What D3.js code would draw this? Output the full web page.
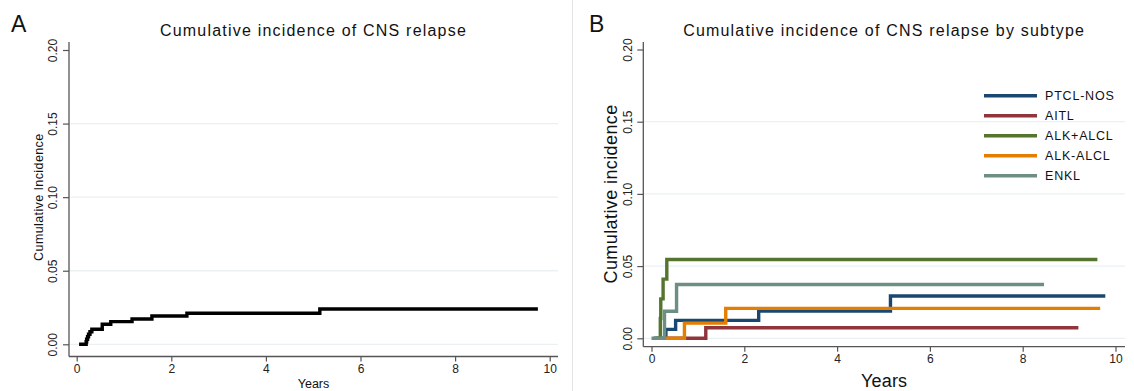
<!DOCTYPE html>
<html>
<head>
<meta charset="utf-8">
<script src="https://cdn.jsdelivr.net/npm/d3@7"></script>
<style>
  body { margin: 0; background: #fff; }
  svg { display: block; font-family: "Liberation Sans", Arial, sans-serif; }
</style>
</head>
<body>
<svg id="chart" width="1134" height="391"></svg>
<script>
// ---- data ----
const xTicks = [0, 2, 4, 6, 8, 10];
const yTicks = [0, 0.05, 0.10, 0.15, 0.20];
const gridVals = [0, 0.05, 0.10, 0.15];

// panel A : all patients (step times in years, CIF after each step)
const allTimes = [0.05, 0.20, 0.21, 0.23, 0.25, 0.28, 0.32, 0.54, 0.72, 1.17, 1.59, 2.33, 5.14, 9.75];
const allCIF   = [0, 0.0017, 0.0034, 0.0051, 0.0068, 0.0085, 0.0102, 0.0136, 0.0154, 0.0172, 0.0192, 0.0211, 0.0240, 0.0240];

// panel B : by subtype
const subtypes = ["PTCL-NOS", "AITL", "ALK+ALCL", "ALK-ALCL", "ENKL"];
const subtypeColors = ["#1a476f", "#90353b", "#55752f", "#e37e00", "#6e8e84"];
const ptclTimes = [0.05, 0.31, 0.52, 2.31, 5.15, 9.78];
const ptclCIF   = [0, 0.0062, 0.0124, 0.0189, 0.0293, 0.0293];
const aitlTimes = [0.30, 1.17, 9.20];
const aitlCIF   = [0, 0.0073, 0.0073];
const alkpTimes = [0.10, 0.19, 0.20, 0.25, 0.33, 9.61];
const alkpCIF   = [0, 0.0137, 0.0273, 0.0410, 0.0546, 0.0546];
const alknTimes = [0.30, 0.71, 1.60, 9.67];
const alknCIF   = [0, 0.0105, 0.0207, 0.0207];
const enklTimes = [0, 0.28, 0.54, 8.46];
const enklCIF   = [0, 0.0187, 0.0373, 0.0373];

const svg = d3.select("#chart");
const fmt2 = d3.format(".2f");

function toPoints(times, vals) {
  return times.map((t, i) => ({ t: t, v: vals[i] }));
}

// draws axes, grid and titles for one panel, returns the scales
function drawPanel(p) {
  const x = d3.scaleLinear().domain([0, 10]).range([p.x0, p.x10]);
  const y = d3.scaleLinear().domain([0, 0.2]).range([p.y0, p.y20]);
  const g = svg.append("g");

  // grid
  g.selectAll(".grid").data(gridVals).enter().append("line")
    .attr("x1", p.axisX).attr("x2", p.axisRight)
    .attr("y1", d => y(d)).attr("y2", d => y(d))
    .attr("stroke", "#eaf1f3").attr("stroke-width", 1.3);

  // y axis
  const ya = g.append("g").attr("transform", `translate(${p.axisX},0)`)
    .call(d3.axisLeft(y).tickValues(yTicks).tickSize(6).tickFormat(fmt2));
  ya.select(".domain").remove();
  ya.selectAll(".tick line").attr("stroke", "#555").attr("stroke-width", 1.2);
  ya.selectAll(".tick text")
    .attr("transform", "rotate(-90)")
    .attr("x", 0).attr("y", p.yLabOff).attr("dy", 0)
    .attr("text-anchor", "middle")
    .attr("font-size", 12).attr("fill", "#222")
    .style("font-family", "Liberation Sans, Arial, sans-serif");

  // x axis
  const xa = g.append("g").attr("transform", `translate(0,${p.axisY})`)
    .call(d3.axisBottom(x).tickValues(xTicks).tickSize(5).tickFormat(d3.format("d")));
  xa.select(".domain").remove();
  xa.selectAll(".tick line").attr("stroke", "#555").attr("stroke-width", 1.2);
  xa.selectAll(".tick text")
    .attr("y", p.xLabOff).attr("dy", 0)
    .attr("font-size", 12).attr("fill", "#222")
    .style("font-family", "Liberation Sans, Arial, sans-serif");

  // axis lines
  g.append("line").attr("x1", p.axisX).attr("x2", p.axisX)
    .attr("y1", p.axisTop).attr("y2", p.axisY)
    .attr("stroke", "#555").attr("stroke-width", 1.3);
  g.append("line").attr("x1", p.axisX).attr("x2", p.axisRight)
    .attr("y1", p.axisY).attr("y2", p.axisY)
    .attr("stroke", "#555").attr("stroke-width", 1.3);

  const cx = (p.axisX + p.axisRight) / 2;
  g.append("text").attr("x", cx).attr("y", 36)
    .attr("text-anchor", "middle").attr("font-size", 16)
    .attr("letter-spacing", 1.2).attr("fill", "#111")
    .text(p.title);
  g.append("text").attr("x", p.letterX).attr("y", 32)
    .attr("font-size", 23).attr("fill", "#111")
    .text(p.letter);
  g.append("text").attr("x", cx).attr("y", p.xTitleY)
    .attr("text-anchor", "middle").attr("font-size", p.titleSize)
    .attr("letter-spacing", p.titleSpacing).attr("fill", "#111")
    .text("Years");
  g.append("text")
    .attr("transform", `translate(${p.yTitleX},${(p.y0 + p.y20) / 2}) rotate(-90)`)
    .attr("text-anchor", "middle").attr("font-size", p.titleSize)
    .attr("letter-spacing", 0.4).attr("fill", "#111")
    .text(p.yTitle);

  return { x, y, g };
}

const stepLine = (x, y) => d3.line()
  .x(d => x(d.t)).y(d => y(d.v))
  .curve(d3.curveStepAfter);

// separator between the two panels
svg.append("line").attr("x1", 572.5).attr("x2", 572.5)
  .attr("y1", 0).attr("y2", 391)
  .attr("stroke", "#e4e4e4").attr("stroke-width", 1);

// ---- panel A ----
const A = drawPanel({
  x0: 76.7, x10: 549.7, y0: 344.3, y20: 50,
  axisX: 69, axisRight: 558, axisY: 356.5, axisTop: 42,
  yLabOff: -12, xLabOff: 16.5,
  title: "Cumulative incidence of CNS relapse", letter: "A", letterX: 11,
  yTitle: "Cumulative Incidence", yTitleX: 42.5, xTitleY: 388,
  titleSize: 12.5, titleSpacing: 0
});
A.g.append("path")
  .datum(toPoints(allTimes, allCIF))
  .attr("d", stepLine(A.x, A.y))
  .attr("fill", "none").attr("stroke", "#000").attr("stroke-width", 3.4);

// ---- panel B ----
const B = drawPanel({
  x0: 651.5, x10: 1115.5, y0: 338.3, y20: 49.5,
  axisX: 643.3, axisRight: 1125, axisY: 346.7, axisTop: 42,
  yLabOff: -11, xLabOff: 16.5,
  title: "Cumulative incidence of CNS relapse by subtype", letter: "B", letterX: 589,
  yTitle: "Cumulative incidence", yTitleX: 617, xTitleY: 386.5,
  titleSize: 18, titleSpacing: 0.2
});
const seriesB = [
  toPoints(ptclTimes, ptclCIF),
  toPoints(aitlTimes, aitlCIF),
  toPoints(alkpTimes, alkpCIF),
  toPoints(alknTimes, alknCIF),
  toPoints(enklTimes, enklCIF)
];
B.g.selectAll(".cif").data(seriesB).enter().append("path")
  .attr("d", stepLine(B.x, B.y))
  .attr("fill", "none")
  .attr("stroke", (d, i) => subtypeColors[i])
  .attr("stroke-width", 3.4);

// legend
const leg = B.g.append("g");
const legY = d3.scalePoint().domain(subtypes).range([95.7, 175.7]);
subtypes.forEach((s, i) => {
  leg.append("line").attr("x1", 984).attr("x2", 1037)
    .attr("y1", legY(s)).attr("y2", legY(s))
    .attr("stroke", subtypeColors[i]).attr("stroke-width", 3.5);
  leg.append("text").attr("x", 1045).attr("y", legY(s) + 4.6)
    .attr("font-size", 12.5).attr("letter-spacing", 0.8).attr("fill", "#111")
    .text(s);
});
</script>
</body>
</html>
